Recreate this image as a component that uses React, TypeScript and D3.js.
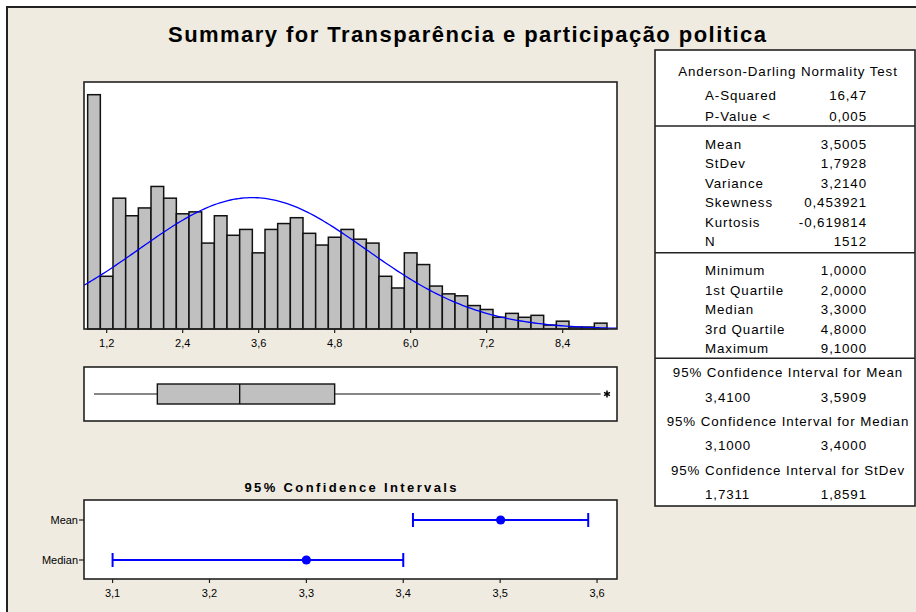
import React from "react";
import * as d3 from "d3";

// ---------------- data ----------------
const TITLE = "Summary for Transparência e participação politica";

const binCenters = [
  1.0, 1.2, 1.4, 1.6, 1.8, 2.0, 2.2, 2.4, 2.6, 2.8, 3.0, 3.2, 3.4, 3.6, 3.8, 4.0,
  4.2, 4.4, 4.6, 4.8, 5.0, 5.2, 5.4, 5.6, 5.8, 6.0, 6.2, 6.4, 6.6, 6.8, 7.0, 7.2,
  7.4, 7.6, 7.8, 8.0, 8.2, 8.4, 8.6, 8.8, 9.0,
];
const binCounts = [
  120, 27, 67, 58, 62, 73, 67, 59, 60, 44, 58, 48, 51, 39, 51, 54, 57, 49, 43, 47,
  51, 46, 44, 27, 21, 39, 33, 22, 18, 17, 12, 10, 6, 8, 6, 7, 2, 4, 1, 1, 3,
];
const histTicks = [1.2, 2.4, 3.6, 4.8, 6.0, 7.2, 8.4];

const fitMean = 3.5005;
const fitSd = 1.7928;
const fitN = 1512;
const binWidth = 0.2;

// boxplot: min whisker, Q1, median, Q3, upper whisker, outliers
const boxWhiskerLo = 1.0;
const boxQ1 = 2.0;
const boxMedian = 3.3;
const boxQ3 = 4.8;
const boxWhiskerHi = 9.0;
const boxOutliers = [9.1];

// confidence intervals
const ciNames = ["Mean", "Median"];
const ciEst = [3.5005, 3.3];
const ciLo = [3.41, 3.1];
const ciHi = [3.5909, 3.4];
const ciTicks = [3.1, 3.2, 3.3, 3.4, 3.5, 3.6];

// table
const adHeader = "Anderson-Darling Normality Test";
const adLabels = ["A-Squared", "P-Value <"];
const adValues = ["16,47", "0,005"];
const momLabels = ["Mean", "StDev", "Variance", "Skewness", "Kurtosis", "N"];
const momValues = ["3,5005", "1,7928", "3,2140", "0,453921", "-0,619814", "1512"];
const quLabels = ["Minimum", "1st Quartile", "Median", "3rd Quartile", "Maximum"];
const quValues = ["1,0000", "2,0000", "3,3000", "4,8000", "9,1000"];
const ciHeaders = [
  "95% Confidence Interval for Mean",
  "95% Confidence Interval for Median",
  "95% Confidence Interval for StDev",
];
const ciLowStr = ["3,4100", "3,1000", "1,7311"];
const ciHighStr = ["3,5909", "3,4000", "1,8591"];

// ---------------- layout ----------------
const W = 916;
const H = 612;
const FONT = "'Liberation Sans', Arial, sans-serif";
const BG = "#EFEBE1";
const PLOT = { left: 84, right: 617 };
const HIST = { top: 82, bottom: 329 };
const BOX = { top: 367, bottom: 421 };
const CI = { top: 500, bottom: 579 };
const TABLE = { left: 655, right: 915, top: 50, bottom: 506 };

const locale = d3.formatLocale({ decimal: ",", thousands: ".", grouping: [3], currency: ["", ""] });
const fmt1 = locale.format(".1f");

export default function App() {
  const x = d3.scaleLinear().domain([0.842, 9.258]).range([PLOT.left, PLOT.right]);
  const y = d3.scaleLinear().domain([0, 126.5]).range([HIST.bottom, HIST.top]);
  const xc = d3.scaleLinear().domain([3.0705, 3.6206]).range([PLOT.left, PLOT.right]);
  const yc = d3.scalePoint().domain(ciNames).range([520, 560]);

  const dens = (v: number) =>
    (fitN * binWidth) / (fitSd * Math.sqrt(2 * Math.PI)) *
    Math.exp(-0.5 * ((v - fitMean) / fitSd) ** 2);
  const curveXs = d3.range(0, 201).map((i) => x.domain()[0] + (i / 200) * (x.domain()[1] - x.domain()[0]));
  const line = d3.line<number>().x((v) => x(v)).y((v) => y(dens(v)));

  const boxMid = (BOX.top + BOX.bottom) / 2;
  const boxHalf = 10;
  const star = d3.symbol().type(d3.symbolAsterisk).size(32)();

  const tFont = { fontFamily: FONT, fontSize: 13.33, letterSpacing: 0.9, fill: "#000" } as const;
  const labelX = 705;
  const valueX = 867;
  const tCenter = (TABLE.left + TABLE.right) / 2 + 3;

  const momY = (i: number) => 144.3 + i * 19.5;
  const quY = (i: number) => 270.7 + i * 19.4;
  const ciHeadY = (i: number) => 372.7 + i * 48.6;

  return (
    <div style={{ position: "absolute", left: 0, top: 0 }}>
      <svg width={W} height={H} style={{ display: "block", background: "#fff" }}>
        <rect x={7} y={7} width={W + 20} height={H + 20} fill={BG} stroke="#222" strokeWidth={2} />
        <text x={467} y={42} textAnchor="middle" fontFamily={FONT} fontWeight="bold" fontSize={22}
          textLength={598} lengthAdjust="spacing">{TITLE}</text>

        {/* Histogram */}
        <rect x={PLOT.left} y={HIST.top} width={PLOT.right - PLOT.left} height={HIST.bottom - HIST.top}
          fill="#fff" />
        {binCenters.map((c, i) => (
          <rect key={i} x={x(c - binWidth / 2)} y={y(binCounts[i])}
            width={x(c + binWidth / 2) - x(c - binWidth / 2)} height={y(0) - y(binCounts[i])}
            fill="#C0C0C0" stroke="#111" strokeWidth={1.5} />
        ))}
        <path d={line(curveXs) || ""} fill="none" stroke="#0000FF" strokeWidth={1.3} />
        <rect x={PLOT.left} y={HIST.top} width={PLOT.right - PLOT.left} height={HIST.bottom - HIST.top}
          fill="none" stroke="#222" strokeWidth={1.6} />
        {histTicks.map((t) => (
          <g key={t} transform={`translate(${x(t)},${HIST.bottom})`}>
            <line y1={0} y2={4} stroke="#222" strokeWidth={1.2} />
            <text y={14} dy="0.35em" textAnchor="middle" fontFamily={FONT} fontSize={11}>{fmt1(t)}</text>
          </g>
        ))}

        {/* Boxplot */}
        <rect x={PLOT.left} y={BOX.top} width={PLOT.right - PLOT.left} height={BOX.bottom - BOX.top}
          fill="#fff" stroke="#222" strokeWidth={1.6} />
        <line x1={x(boxWhiskerLo)} x2={x(boxQ1)} y1={boxMid} y2={boxMid} stroke="#111" strokeWidth={1.2} />
        <line x1={x(boxQ3)} x2={x(boxWhiskerHi)} y1={boxMid} y2={boxMid} stroke="#111" strokeWidth={1.2} />
        <rect x={x(boxQ1)} y={boxMid - boxHalf} width={x(boxQ3) - x(boxQ1)} height={boxHalf * 2}
          fill="#C0C0C0" stroke="#111" strokeWidth={1.4} />
        <line x1={x(boxMedian)} x2={x(boxMedian)} y1={boxMid - boxHalf} y2={boxMid + boxHalf}
          stroke="#111" strokeWidth={1.4} />
        {boxOutliers.map((o) => (
          <path key={o} d={star || ""} transform={`translate(${x(o)},${boxMid})`} stroke="#000"
            strokeWidth={1.5} fill="none" />
        ))}

        {/* CI plot */}
        <text x={(PLOT.left + PLOT.right) / 2} y={487} dy="0.35em" textAnchor="middle" fontFamily={FONT}
          fontWeight="bold" fontSize={13} textLength={212} lengthAdjust="spacing">95% Confidence Intervals</text>
        <rect x={PLOT.left} y={CI.top} width={PLOT.right - PLOT.left} height={CI.bottom - CI.top}
          fill="#fff" stroke="#222" strokeWidth={1.6} />
        {ciNames.map((n, i) => {
          const yy = yc(n) as number;
          return (
            <g key={n}>
              <line x1={PLOT.left - 5} x2={PLOT.left} y1={yy} y2={yy} stroke="#222" strokeWidth={1.2} />
              <text x={PLOT.left - 6} y={yy} dy="0.35em" textAnchor="end" fontFamily={FONT} fontSize={11}>{n}</text>
              <line x1={xc(ciLo[i])} x2={xc(ciHi[i])} y1={yy} y2={yy} stroke="#0000FF" strokeWidth={2} />
              <line x1={xc(ciLo[i])} x2={xc(ciLo[i])} y1={yy - 7} y2={yy + 7} stroke="#0000FF" strokeWidth={2} />
              <line x1={xc(ciHi[i])} x2={xc(ciHi[i])} y1={yy - 7} y2={yy + 7} stroke="#0000FF" strokeWidth={2} />
              <circle cx={xc(ciEst[i])} cy={yy} r={4.6} fill="#0000FF" />
            </g>
          );
        })}
        {ciTicks.map((t) => (
          <g key={t} transform={`translate(${xc(t)},${CI.bottom})`}>
            <line y1={0} y2={4} stroke="#222" strokeWidth={1.2} />
            <text y={14} dy="0.35em" textAnchor="middle" fontFamily={FONT} fontSize={11}>{fmt1(t)}</text>
          </g>
        ))}

        {/* Table */}
        <rect x={TABLE.left} y={TABLE.top} width={TABLE.right - TABLE.left} height={TABLE.bottom - TABLE.top}
          fill="#fff" stroke="#222" strokeWidth={1.6} />
        {[126, 252.7, 358.3].map((d) => (
          <line key={d} x1={TABLE.left} x2={TABLE.right} y1={d} y2={d} stroke="#222" strokeWidth={1.6} />
        ))}
        <text x={tCenter} y={71.7} dy="0.35em" textAnchor="middle" {...tFont}>{adHeader}</text>
        {adLabels.map((l, i) => (
          <g key={l}>
            <text x={labelX} y={95 + i * 21} dy="0.35em" {...tFont}>{l}</text>
            <text x={valueX} y={95 + i * 21} dy="0.35em" textAnchor="end" {...tFont}>{adValues[i]}</text>
          </g>
        ))}
        {momLabels.map((l, i) => (
          <g key={l}>
            <text x={labelX} y={momY(i)} dy="0.35em" {...tFont}>{l}</text>
            <text x={valueX} y={momY(i)} dy="0.35em" textAnchor="end" {...tFont}>{momValues[i]}</text>
          </g>
        ))}
        {quLabels.map((l, i) => (
          <g key={l}>
            <text x={labelX} y={quY(i)} dy="0.35em" {...tFont}>{l}</text>
            <text x={valueX} y={quY(i)} dy="0.35em" textAnchor="end" {...tFont}>{quValues[i]}</text>
          </g>
        ))}
        {ciHeaders.map((h, i) => (
          <g key={h}>
            <text x={tCenter} y={ciHeadY(i)} dy="0.35em" textAnchor="middle" {...tFont}>{h}</text>
            <text x={labelX} y={ciHeadY(i) + 24.5} dy="0.35em" {...tFont}>{ciLowStr[i]}</text>
            <text x={valueX} y={ciHeadY(i) + 24.5} dy="0.35em" textAnchor="end" {...tFont}>{ciHighStr[i]}</text>
          </g>
        ))}
      </svg>
    </div>
  );
}
